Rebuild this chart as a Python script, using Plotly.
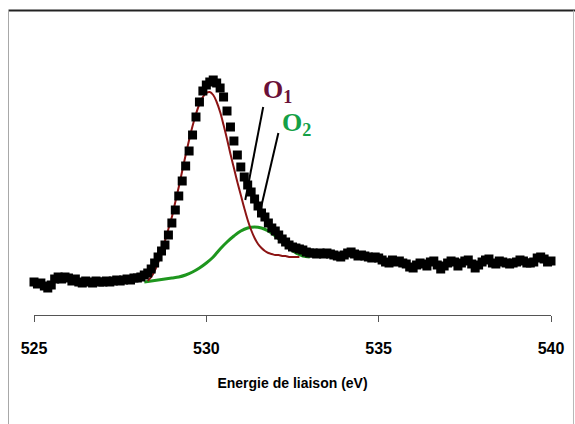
import numpy as np
import plotly.graph_objects as go

# ---------------- data ----------------
energy = np.round(np.arange(525.0, 540.0001, 0.1), 1)
intensity = [
    33, 31, 32, 29, 27, 30, 36, 38, 36, 38,
    37, 34, 36, 33, 32, 34, 33, 32, 34, 33,
    33, 34, 33, 34, 35, 34, 35, 36, 35, 37,
    37, 38, 40, 42, 46, 52, 58, 64, 70, 80,
    92, 105, 119, 134, 149, 164, 180, 198, 213, 224,
    230, 233, 235, 232, 227, 218, 204, 188, 174, 160,
    148, 138, 130, 123, 116, 109, 102, 98, 92, 87,
    84, 80, 76, 73, 70, 68, 67, 66, 65, 63,
    62, 62, 61, 62, 61, 62, 61, 60, 59, 58,
    60, 62, 63, 61, 59, 60, 59, 58, 57, 58,
    57, 55, 53, 52, 55, 53, 54, 52, 51, 48,
    47, 50, 52, 51, 49, 53, 54, 50, 46, 49,
    52, 54, 53, 49, 52, 54, 55, 51, 47, 50,
    53, 55, 56, 52, 51, 54, 53, 52, 51, 52,
    53, 55, 54, 52, 52, 53, 57, 58, 56, 53,
    54,
]

o1_energy = [528.3, 528.4, 528.5, 528.6, 528.7, 528.8, 528.9, 529.0, 529.1, 529.2,
             529.3, 529.4, 529.5, 529.6, 529.7, 529.8, 529.9, 530.0, 530.1, 530.2,
             530.3, 530.4, 530.5, 530.6, 530.7, 530.8, 530.9, 531.0, 531.1, 531.2,
             531.3, 531.4, 531.5, 531.6, 531.7, 531.8, 531.9, 532.0, 532.1, 532.2,
             532.3, 532.4, 532.5, 532.6, 532.7]
o1_fit = [34, 38, 44, 52, 62, 74, 86, 98, 113, 128,
          144, 160, 175, 189, 201, 211, 218, 222, 223, 220,
          213, 203, 190, 176, 161, 147, 133, 120, 107, 95,
          85, 77, 71, 67, 64, 62, 61, 60, 60, 59,
          59, 58, 58, 58, 58]

o2_energy = [528.2, 528.4, 528.6, 528.8, 529.0, 529.2, 529.4, 529.6, 529.8, 530.0,
             530.2, 530.4, 530.6, 530.8, 531.0, 531.2, 531.4, 531.6, 531.8, 532.0,
             532.2, 532.4, 532.6, 532.8, 533.0]
o2_fit = [33, 34, 35, 36, 37, 38, 40, 43, 47, 52,
          58, 66, 73, 79, 84, 87, 88, 87, 84, 79,
          73, 67, 62, 59, 58]

tick_values = [525, 530, 535, 540]
tick_labels = ["525", "530", "535", "540"]
x_title = "Energie de liaison (eV)"

assert len(energy) == len(intensity)

SANS = "Liberation Sans Narrow, Arial Narrow, Liberation Sans, Arial, sans-serif"

fig = go.Figure()
fig.add_trace(go.Scatter(x=o2_energy, y=o2_fit, mode="lines",
                         line=dict(color="#1e961e", width=3, shape="spline"),
                         hoverinfo="skip", showlegend=False))
fig.add_trace(go.Scatter(x=o1_energy, y=o1_fit, mode="lines",
                         line=dict(color="#8c1414", width=2, shape="spline"),
                         hoverinfo="skip", showlegend=False))
fig.add_trace(go.Scatter(x=energy, y=intensity, mode="markers",
                         marker=dict(symbol="square", size=9, color="black",
                                     line=dict(width=0)),
                         cliponaxis=False, showlegend=False))

# leader lines
fig.add_shape(type="line", xref="x", yref="y", x0=531.65, y0=208, x1=531.13, y1=115,
              line=dict(color="black", width=2))
fig.add_shape(type="line", xref="x", yref="y", x0=532.09, y0=182, x1=531.57, y1=105,
              line=dict(color="black", width=2))

fig.add_annotation(x=531.60, y=224, xref="x", yref="y", xanchor="left", yanchor="middle",
                   text="<b>O<sub>1</sub></b>", showarrow=False,
                   font=dict(family="Liberation Serif, serif", size=26, color="#6a1038"))
fig.add_annotation(x=532.13, y=191, xref="x", yref="y", xanchor="left", yanchor="middle",
                   text="<b>O<sub>2</sub></b>", showarrow=False,
                   font=dict(family="Liberation Serif, serif", size=26, color="#14a046"))

# outer frame
fig.add_shape(type="line", xref="paper", yref="paper", x0=-0.0493, x1=1.06, y0=1.0322, y1=1.0322,
              line=dict(color="#222222", width=2))
fig.add_shape(type="line", xref="paper", yref="paper", x0=-0.0493, x1=-0.0493, y0=1.0322, y1=-0.5,
              line=dict(color="#a8a8a8", width=1))
fig.add_shape(type="line", xref="paper", yref="paper", x0=1.0435, x1=1.0435, y0=1.0322, y1=-0.5,
              line=dict(color="#b8b8b8", width=1))

fig.update_layout(
    width=575, height=424,
    margin=dict(l=34, r=24, t=20, b=109),
    paper_bgcolor="white", plot_bgcolor="white",
    xaxis=dict(range=[525, 540], tickvals=tick_values, ticktext=tick_labels,
               showline=True, linecolor="#555555", linewidth=1,
               ticks="outside", ticklen=6, tickcolor="#555555", tickwidth=1,
               showgrid=False, zeroline=False, ticklabelstandoff=13,
               tickfont=dict(family=SANS, size=16, color="black", weight="bold"),
               title=dict(text=x_title, standoff=21,
                          font=dict(family=SANS, size=14, color="black", weight="bold"))),
    yaxis=dict(range=[0, 295], visible=False, showgrid=False, zeroline=False),
)

fig.write_html("out.html")
